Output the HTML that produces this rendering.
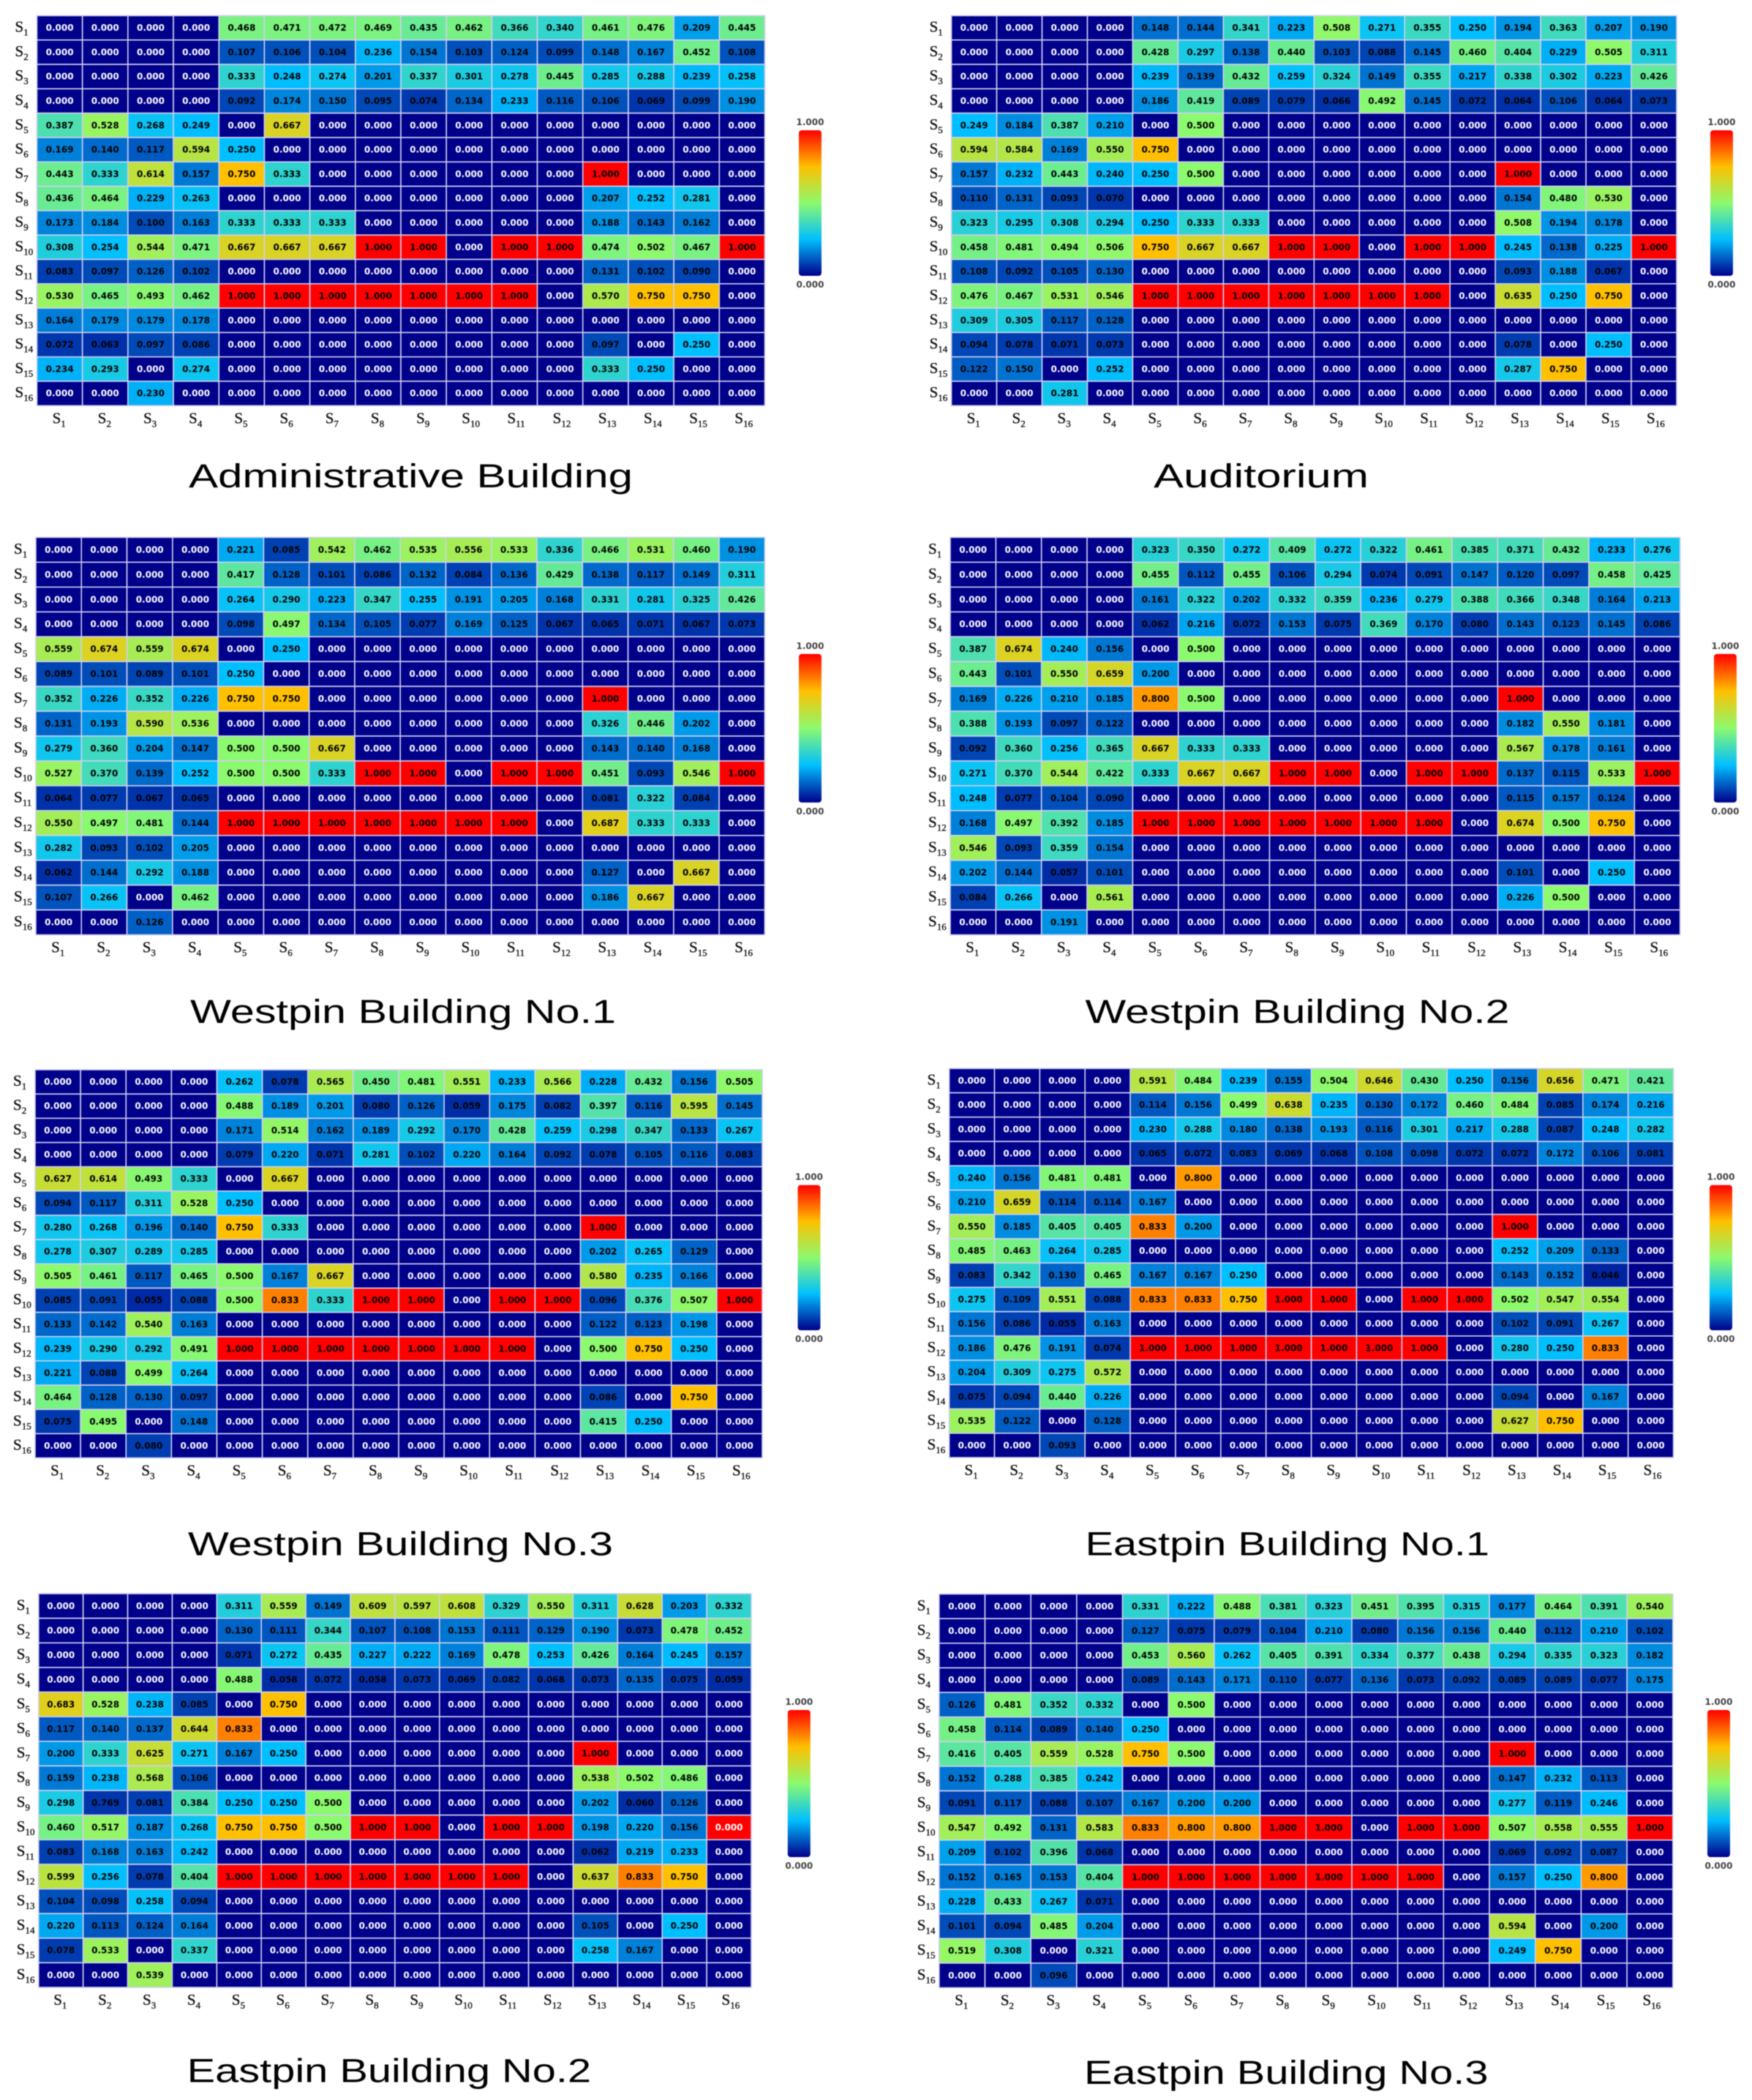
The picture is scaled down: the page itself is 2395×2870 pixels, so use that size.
<!DOCTYPE html>
<html lang="en">
<head>
<meta charset="utf-8">
<title>Building transition probability heatmaps</title>
<style>
html,body{margin:0;padding:0;background:#fff;}
svg{display:block;filter:blur(0.5px);}
.cell-text{font-family:"DejaVu Sans",sans-serif;font-weight:bold;font-size:12px;text-anchor:middle;dominant-baseline:central;}
.axis-text{font-family:"Liberation Serif",serif;font-size:21px;fill:#111;stroke:#111;stroke-width:0.35px;}
.axis-sub{font-size:13px;}
.bar-text{font-family:"DejaVu Sans",sans-serif;font-weight:bold;font-size:12px;fill:#444;text-anchor:middle;dominant-baseline:central;}
.title-text{font-family:"Liberation Sans",sans-serif;font-size:45px;fill:#000;}
</style>
</head>
<body>
<svg id="figure" xmlns="http://www.w3.org/2000/svg" width="2395" height="2870" viewBox="0 0 2395 2870">
  <defs>
    <linearGradient id="scale-gradient" x1="0" y1="0" x2="0" y2="1">
      <stop offset="0" stop-color="#ff0000"/>
      <stop offset="0.25" stop-color="#ffc000"/>
      <stop offset="0.5" stop-color="#8cfa6e"/>
      <stop offset="0.75" stop-color="#00bfff"/>
      <stop offset="1" stop-color="#00008b"/>
    </linearGradient>
  </defs>
  <rect x="0" y="0" width="2395" height="2870" fill="#ffffff"/>
</svg>
<script>
const stateLabels = ['1','2','3','4','5','6','7','8','9','10','11','12','13','14','15','16'];
const scaleTicks = ['1.000','0.000'];

const administrativeValues = [
[0,0,0,0,.468,.471,.472,.469,.435,.462,.366,.340,.461,.476,.209,.445],
[0,0,0,0,.107,.106,.104,.236,.154,.103,.124,.099,.148,.167,.452,.108],
[0,0,0,0,.333,.248,.274,.201,.337,.301,.278,.445,.285,.288,.239,.258],
[0,0,0,0,.092,.174,.150,.095,.074,.134,.233,.116,.106,.069,.099,.190],
[.387,.528,.268,.249,0,.667,0,0,0,0,0,0,0,0,0,0],
[.169,.140,.117,.594,.250,0,0,0,0,0,0,0,0,0,0,0],
[.443,.333,.614,.157,.750,.333,0,0,0,0,0,0,1,0,0,0],
[.436,.464,.229,.263,0,0,0,0,0,0,0,0,.207,.252,.281,0],
[.173,.184,.100,.163,.333,.333,.333,0,0,0,0,0,.188,.143,.162,0],
[.308,.254,.544,.471,.667,.667,.667,1,1,0,1,1,.474,.502,.467,1],
[.083,.097,.126,.102,0,0,0,0,0,0,0,0,.131,.102,.090,0],
[.530,.465,.493,.462,1,1,1,1,1,1,1,0,.570,.750,.750,0],
[.164,.179,.179,.178,0,0,0,0,0,0,0,0,0,0,0,0],
[.072,.063,.097,.086,0,0,0,0,0,0,0,0,.097,0,.250,0],
[.234,.293,0,.274,0,0,0,0,0,0,0,0,.333,.250,0,0],
[0,0,.230,0,0,0,0,0,0,0,0,0,0,0,0,0]
];
const auditoriumValues = [
[0,0,0,0,.148,.144,.341,.223,.508,.271,.355,.250,.194,.363,.207,.190],
[0,0,0,0,.428,.297,.138,.440,.103,.088,.145,.460,.404,.229,.505,.311],
[0,0,0,0,.239,.139,.432,.259,.324,.149,.355,.217,.338,.302,.223,.426],
[0,0,0,0,.186,.419,.089,.079,.066,.492,.145,.072,.064,.106,.064,.073],
[.249,.184,.387,.210,0,.500,0,0,0,0,0,0,0,0,0,0],
[.594,.584,.169,.550,.750,0,0,0,0,0,0,0,0,0,0,0],
[.157,.232,.443,.240,.250,.500,0,0,0,0,0,0,1,0,0,0],
[.110,.131,.093,.070,0,0,0,0,0,0,0,0,.154,.480,.530,0],
[.323,.295,.308,.294,.250,.333,.333,0,0,0,0,0,.508,.194,.178,0],
[.458,.481,.494,.506,.750,.667,.667,1,1,0,1,1,.245,.138,.225,1],
[.108,.092,.105,.130,0,0,0,0,0,0,0,0,.093,.188,.067,0],
[.476,.467,.531,.546,1,1,1,1,1,1,1,0,.635,.250,.750,0],
[.309,.305,.117,.128,0,0,0,0,0,0,0,0,0,0,0,0],
[.094,.078,.071,.073,0,0,0,0,0,0,0,0,.078,0,.250,0],
[.122,.150,0,.252,0,0,0,0,0,0,0,0,.287,.750,0,0],
[0,0,.281,0,0,0,0,0,0,0,0,0,0,0,0,0]
];
const westpin1Values = [
[0,0,0,0,.221,.085,.542,.462,.535,.556,.533,.336,.466,.531,.460,.190],
[0,0,0,0,.417,.128,.101,.086,.132,.084,.136,.429,.138,.117,.149,.311],
[0,0,0,0,.264,.290,.223,.347,.255,.191,.205,.168,.331,.281,.325,.426],
[0,0,0,0,.098,.497,.134,.105,.077,.169,.125,.067,.065,.071,.067,.073],
[.559,.674,.559,.674,0,.250,0,0,0,0,0,0,0,0,0,0],
[.089,.101,.089,.101,.250,0,0,0,0,0,0,0,0,0,0,0],
[.352,.226,.352,.226,.750,.750,0,0,0,0,0,0,1,0,0,0],
[.131,.193,.590,.536,0,0,0,0,0,0,0,0,.326,.446,.202,0],
[.279,.360,.204,.147,.500,.500,.667,0,0,0,0,0,.143,.140,.168,0],
[.527,.370,.139,.252,.500,.500,.333,1,1,0,1,1,.451,.093,.546,1],
[.064,.077,.067,.065,0,0,0,0,0,0,0,0,.081,.322,.084,0],
[.550,.497,.481,.144,1,1,1,1,1,1,1,0,.687,.333,.333,0],
[.282,.093,.102,.205,0,0,0,0,0,0,0,0,0,0,0,0],
[.062,.144,.292,.188,0,0,0,0,0,0,0,0,.127,0,.667,0],
[.107,.266,0,.462,0,0,0,0,0,0,0,0,.186,.667,0,0],
[0,0,.126,0,0,0,0,0,0,0,0,0,0,0,0,0]
];
const westpin2Values = [
[0,0,0,0,.323,.350,.272,.409,.272,.322,.461,.385,.371,.432,.233,.276],
[0,0,0,0,.455,.112,.455,.106,.294,.074,.091,.147,.120,.097,.458,.425],
[0,0,0,0,.161,.322,.202,.332,.359,.236,.279,.388,.366,.348,.164,.213],
[0,0,0,0,.062,.216,.072,.153,.075,.369,.170,.080,.143,.123,.145,.086],
[.387,.674,.240,.156,0,.500,0,0,0,0,0,0,0,0,0,0],
[.443,.101,.550,.659,.200,0,0,0,0,0,0,0,0,0,0,0],
[.169,.226,.210,.185,.800,.500,0,0,0,0,0,0,1,0,0,0],
[.388,.193,.097,.122,0,0,0,0,0,0,0,0,.182,.550,.181,0],
[.092,.360,.256,.365,.667,.333,.333,0,0,0,0,0,.567,.178,.161,0],
[.271,.370,.544,.422,.333,.667,.667,1,1,0,1,1,.137,.115,.533,1],
[.248,.077,.104,.090,0,0,0,0,0,0,0,0,.115,.157,.124,0],
[.168,.497,.392,.185,1,1,1,1,1,1,1,0,.674,.500,.750,0],
[.546,.093,.359,.154,0,0,0,0,0,0,0,0,0,0,0,0],
[.202,.144,.057,.101,0,0,0,0,0,0,0,0,.101,0,.250,0],
[.084,.266,0,.561,0,0,0,0,0,0,0,0,.226,.500,0,0],
[0,0,.191,0,0,0,0,0,0,0,0,0,0,0,0,0]
];
const westpin3Values = [
[0,0,0,0,.262,.078,.565,.450,.481,.551,.233,.566,.228,.432,.156,.505],
[0,0,0,0,.488,.189,.201,.080,.126,.059,.175,.082,.397,.116,.595,.145],
[0,0,0,0,.171,.514,.162,.189,.292,.170,.428,.259,.298,.347,.133,.267],
[0,0,0,0,.079,.220,.071,.281,.102,.220,.164,.092,.078,.105,.116,.083],
[.627,.614,.493,.333,0,.667,0,0,0,0,0,0,0,0,0,0],
[.094,.117,.311,.528,.250,0,0,0,0,0,0,0,0,0,0,0],
[.280,.268,.196,.140,.750,.333,0,0,0,0,0,0,1,0,0,0],
[.278,.307,.289,.285,0,0,0,0,0,0,0,0,.202,.265,.129,0],
[.505,.461,.117,.465,.500,.167,.667,0,0,0,0,0,.580,.235,.166,0],
[.085,.091,.055,.088,.500,.833,.333,1,1,0,1,1,.096,.376,.507,1],
[.133,.142,.540,.163,0,0,0,0,0,0,0,0,.122,.123,.198,0],
[.239,.290,.292,.491,1,1,1,1,1,1,1,0,.500,.750,.250,0],
[.221,.088,.499,.264,0,0,0,0,0,0,0,0,0,0,0,0],
[.464,.128,.130,.097,0,0,0,0,0,0,0,0,.086,0,.750,0],
[.075,.495,0,.148,0,0,0,0,0,0,0,0,.415,.250,0,0],
[0,0,.080,0,0,0,0,0,0,0,0,0,0,0,0,0]
];
const eastpin1Values = [
[0,0,0,0,.591,.484,.239,.155,.504,.646,.430,.250,.156,.656,.471,.421],
[0,0,0,0,.114,.156,.499,.638,.235,.130,.172,.460,.484,.085,.174,.216],
[0,0,0,0,.230,.288,.180,.138,.193,.116,.301,.217,.288,.087,.248,.282],
[0,0,0,0,.065,.072,.083,.069,.068,.108,.098,.072,.072,.172,.106,.081],
[.240,.156,.481,.481,0,.800,0,0,0,0,0,0,0,0,0,0],
[.210,.659,.114,.114,.167,0,0,0,0,0,0,0,0,0,0,0],
[.550,.185,.405,.405,.833,.200,0,0,0,0,0,0,1,0,0,0],
[.485,.463,.264,.285,0,0,0,0,0,0,0,0,.252,.209,.133,0],
[.083,.342,.130,.465,.167,.167,.250,0,0,0,0,0,.143,.152,.046,0],
[.275,.109,.551,.088,.833,.833,.750,1,1,0,1,1,.502,.547,.554,0],
[.156,.086,.055,.163,0,0,0,0,0,0,0,0,.102,.091,.267,0],
[.186,.476,.191,.074,1,1,1,1,1,1,1,0,.280,.250,.833,0],
[.204,.309,.275,.572,0,0,0,0,0,0,0,0,0,0,0,0],
[.075,.094,.440,.226,0,0,0,0,0,0,0,0,.094,0,.167,0],
[.535,.122,0,.128,0,0,0,0,0,0,0,0,.627,.750,0,0],
[0,0,.093,0,0,0,0,0,0,0,0,0,0,0,0,0]
];
const eastpin2Values = [
[0,0,0,0,.311,.559,.149,.609,.597,.608,.329,.550,.311,.628,.203,.332],
[0,0,0,0,.130,.111,.344,.107,.108,.153,.111,.129,.190,.073,.478,.452],
[0,0,0,0,.071,.272,.435,.227,.222,.169,.478,.253,.426,.164,.245,.157],
[0,0,0,0,.488,.058,.072,.058,.073,.069,.082,.068,.073,.135,.075,.059],
[.683,.528,.238,.085,0,.750,0,0,0,0,0,0,0,0,0,0],
[.117,.140,.137,.644,.833,0,0,0,0,0,0,0,0,0,0,0],
[.200,.333,.625,.271,.167,.250,0,0,0,0,0,0,1,0,0,0],
[.159,.238,.568,.106,0,0,0,0,0,0,0,0,.538,.502,.486,0],
[.298,.069,.081,.384,.250,.250,.500,0,0,0,0,0,.202,.060,.126,0],
[.460,.517,.187,.268,.750,.750,.500,1,1,0,1,1,.198,.220,.156,1],
[.083,.168,.163,.242,0,0,0,0,0,0,0,0,.062,.219,.233,0],
[.599,.256,.078,.404,1,1,1,1,1,1,1,0,.637,.833,.750,0],
[.104,.098,.258,.094,0,0,0,0,0,0,0,0,0,0,0,0],
[.220,.113,.124,.164,0,0,0,0,0,0,0,0,.105,0,.250,0],
[.078,.533,0,.337,0,0,0,0,0,0,0,0,.258,.167,0,0],
[0,0,.539,0,0,0,0,0,0,0,0,0,0,0,0,0]
];
const eastpin3Values = [
[0,0,0,0,.331,.222,.488,.381,.323,.451,.395,.315,.177,.464,.391,.540],
[0,0,0,0,.127,.075,.079,.104,.210,.080,.156,.156,.440,.112,.210,.102],
[0,0,0,0,.453,.560,.262,.405,.391,.334,.377,.438,.294,.335,.323,.182],
[0,0,0,0,.089,.143,.171,.110,.077,.136,.073,.092,.089,.089,.077,.175],
[.126,.481,.352,.332,0,.500,0,0,0,0,0,0,0,0,0,0],
[.458,.114,.089,.140,.250,0,0,0,0,0,0,0,0,0,0,0],
[.416,.405,.559,.528,.750,.500,0,0,0,0,0,0,1,0,0,0],
[.152,.288,.385,.242,0,0,0,0,0,0,0,0,.147,.232,.113,0],
[.091,.117,.088,.107,.167,.200,.200,0,0,0,0,0,.277,.119,.246,0],
[.547,.492,.131,.583,.833,.800,.800,1,1,0,1,1,.507,.558,.555,1],
[.209,.102,.396,.068,0,0,0,0,0,0,0,0,.069,.092,.087,0],
[.152,.165,.153,.404,1,1,1,1,1,1,1,0,.157,.250,.800,0],
[.228,.433,.267,.071,0,0,0,0,0,0,0,0,0,0,0,0],
[.101,.094,.485,.204,0,0,0,0,0,0,0,0,.594,0,.200,0],
[.519,.308,0,.321,0,0,0,0,0,0,0,0,.249,.750,0,0],
[0,0,.096,0,0,0,0,0,0,0,0,0,0,0,0,0]
];
// Two cells in this panel print a number that differs from their fill colour.
const eastpin2PrintedLabels = {'8,1':'0.769','9,15':'0.000'};

const SVG_NS = 'http://www.w3.org/2000/svg';
const figure = document.getElementById('figure');

function make(tag, attrs, parent) {
  const node = document.createElementNS(SVG_NS, tag);
  for (const key in attrs) node.setAttribute(key, attrs[key]);
  parent.appendChild(node);
  return node;
}

function colorFor(v) {
  const ramp = [[0,0,139],[0,191,255],[140,250,110],[255,192,0],[255,0,0]];
  const t = Math.max(0, Math.min(1, v)) * 4;
  const i = Math.min(3, Math.floor(t));
  const f = t - i;
  const mix = ramp[i].map((c, k) => Math.round(c + (ramp[i + 1][k] - c) * f));
  return 'rgb(' + mix.join(',') + ')';
}

function stateLabel(parent, label, x, y, name) {
  const text = make('text', {class: 'axis-text', x: x, y: y, 'text-anchor': 'start'}, parent);
  
  
  text.appendChild(document.createTextNode('S'));
  const sub = make('tspan', {class: 'axis-sub', dy: 5}, text);
  sub.textContent = label;
}

function drawPanel(title, values, box, printed) {
  const slug = title.toLowerCase().replace(/[^a-z0-9]+/g, '-');
  const group = make('g', {}, figure);
  
  

  const cellW = box.w / stateLabels.length;
  const cellH = box.h / stateLabels.length;
  const xAxis = col => box.x + col * cellW;
  const yAxis = row => box.y + row * cellH;

  values.forEach((rowValues, row) => {
    rowValues.forEach((value, col) => {
      const rect = make('rect', {x: xAxis(col), y: yAxis(row), width: cellW, height: cellH, fill: colorFor(value), stroke: '#cfcff0', 'stroke-width': 1.6}, group);
      
      
      const key = row + ',' + col;
      const shown = printed && printed[key] ? printed[key] : value.toFixed(3);
      const label = make('text', {class: 'cell-text', x: xAxis(col) + cellW / 2, y: yAxis(row) + cellH / 2, fill: shown === '0.000' ? '#ffffff' : '#000000'}, group);
      
      
      label.textContent = shown;
    });
  });

  stateLabels.forEach((label, i) => {
    stateLabel(group, label, box.x - 30, yAxis(i) + cellH / 2 + 5.5, 'row-label-s' + label);
    stateLabel(group, label, xAxis(i) + cellW / 2 - 10, box.y + box.h + 24, 'column-label-s' + label);
  });

  const bar = make('rect', {x: box.barX, y: box.barY, width: 31, height: box.barH, rx: 4, ry: 4, fill: 'url(#scale-gradient)'}, group);
  
  

  const maxLabel = make('text', {class: 'bar-text', x: box.barX + 15.5, y: box.barY - 11}, group);
  
  
  maxLabel.textContent = scaleTicks[0];

  const minLabel = make('text', {class: 'bar-text', x: box.barX + 15.5, y: box.barY + box.barH + 12}, group);
  
  
  minLabel.textContent = scaleTicks[1];

  const heading = make('text', {class: 'title-text', x: box.titleX, y: box.titleY, textLength: box.titleW, lengthAdjust: 'spacingAndGlyphs'}, group);
  
  
  heading.textContent = title;
}

drawPanel('Administrative Building', administrativeValues, {x: 50.5, y: 21.4, w: 995, h: 533, barX: 1092, barY: 178, barH: 199, titleX: 258, titleW: 607, titleY: 666});
drawPanel('Auditorium', auditoriumValues, {x: 1300.6, y: 21.4, w: 991.4, h: 533, barX: 2338, barY: 178, barH: 199, titleX: 1577, titleW: 294, titleY: 666});
drawPanel('Westpin Building No.1', westpin1Values, {x: 49, y: 734.4, w: 996.4, h: 543.2, barX: 1092, barY: 893.8, barH: 203, titleX: 260, titleW: 582, titleY: 1398});
drawPanel('Westpin Building No.2', westpin2Values, {x: 1299, y: 734.4, w: 997.7, h: 543.2, barX: 2343, barY: 893.8, barH: 203, titleX: 1483.5, titleW: 580, titleY: 1398});
drawPanel('Westpin Building No.3', westpin3Values, {x: 48, y: 1462, w: 994, h: 530.5, barX: 1090.5, barY: 1619.6, barH: 198.4, titleX: 257, titleW: 581, titleY: 2125.6});
drawPanel('Eastpin Building No.1', eastpin1Values, {x: 1297.6, y: 1460.3, w: 990, h: 531.7, barX: 2337, barY: 1619.6, barH: 198.4, titleX: 1483.5, titleW: 552.5, titleY: 2125.6});
drawPanel('Eastpin Building No.2', eastpin2Values, {x: 52.8, y: 2178, w: 974.2, h: 538.1, barX: 1076.8, barY: 2337, barH: 201, titleX: 255.6, titleW: 552.5, titleY: 2845.6}, eastpin2PrintedLabels);
drawPanel('Eastpin Building No.3', eastpin3Values, {x: 1283.8, y: 2178.5, w: 1003, h: 538.1, barX: 2334, barY: 2337, barH: 201, titleX: 1482, titleW: 552.5, titleY: 2848});
</script>
</body>
</html>
